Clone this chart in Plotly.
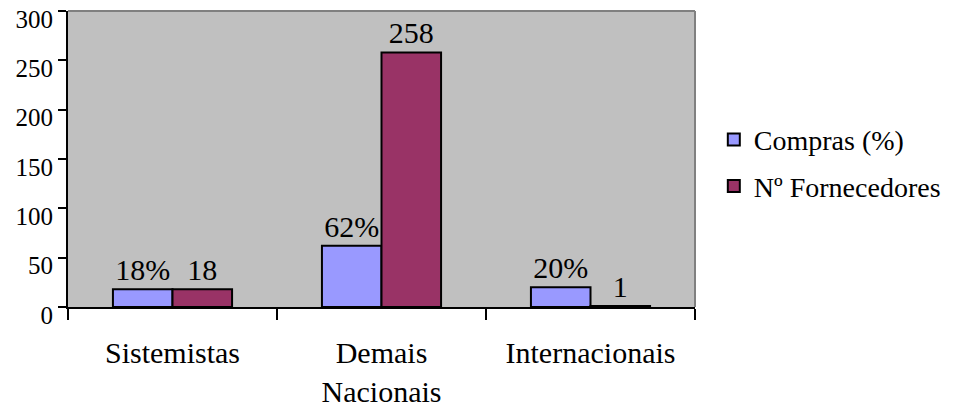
import plotly.graph_objects as go

# Supplier categories and the two series shown per category
categories = ["Sistemistas", "Demais<br>Nacionais", "Internacionais"]
compras_pct = [18, 62, 20]          # share of purchases (%)
n_fornecedores = [18, 258, 1]       # number of suppliers
y_ticks = [0, 50, 100, 150, 200, 250, 300]

compras_labels = [f"{v}%" for v in compras_pct]
fornecedores_labels = [str(v) for v in n_fornecedores]

FONT = "Times New Roman, Liberation Serif, serif"
BLUE = "#9999FF"
MAROON = "#993366"

fig = go.Figure()
fig.add_trace(go.Bar(
    name="Compras (%)", legendgroup="compras",
    x=categories, y=compras_pct,
    text=compras_labels, textposition="outside", constraintext="none",
    textfont=dict(family=FONT, size=30, color="black"),
    marker=dict(color=BLUE, line=dict(color="black", width=2)),
    cliponaxis=False,
))
fig.add_trace(go.Bar(
    name="Nº Fornecedores", legendgroup="fornecedores",
    x=categories, y=n_fornecedores,
    text=fornecedores_labels, textposition="outside", constraintext="none",
    textfont=dict(family=FONT, size=30, color="black"),
    marker=dict(color=MAROON, line=dict(color="black", width=2)),
    cliponaxis=False,
))

fig.update_layout(
    width=958, height=408,
    margin=dict(l=68, r=263, t=11, b=101, autoexpand=False),
    paper_bgcolor="white",
    plot_bgcolor="#C0C0C0",
    barmode="group",
    bargap=0.43,
    bargroupgap=0,
    font=dict(family=FONT, color="black"),
    showlegend=True,
    legend=dict(
        x=1.03, y=0.487, xanchor="left", yanchor="middle",
        font=dict(family=FONT, size=28, color="black"),
        bgcolor="rgba(0,0,0,0)",
        tracegroupgap=7,
    ),
    xaxis=dict(
        type="category", automargin=False,
        showgrid=False, zeroline=False,
        showline=True, linecolor="black", linewidth=2,
        ticks="outside", tickson="boundaries", ticklen=11, tickwidth=2, tickcolor="black",
        tickfont=dict(family=FONT, size=30, color="black"),
        ticklabelstandoff=18,
    ),
    yaxis=dict(
        range=[0, 300], tickvals=y_ticks, automargin=False,
        showgrid=False, zeroline=False,
        showline=True, linecolor="black", linewidth=2,
        ticks="outside", ticklen=8, tickwidth=2, tickcolor="black",
        tickfont=dict(family=FONT, size=25, color="black"),
        ticklabeloverflow="allow",
        ticklabelshift=8,
        ticklabelstandoff=0,
    ),
    shapes=[
        dict(type="line", xref="paper", yref="paper", x0=0, x1=1, y0=1, y1=1,
             line=dict(color="#808080", width=2)),
        dict(type="line", xref="paper", yref="paper", x0=1, x1=1, y0=0, y1=1,
             line=dict(color="#808080", width=2)),
    ],
)

fig.write_html("out.html")
